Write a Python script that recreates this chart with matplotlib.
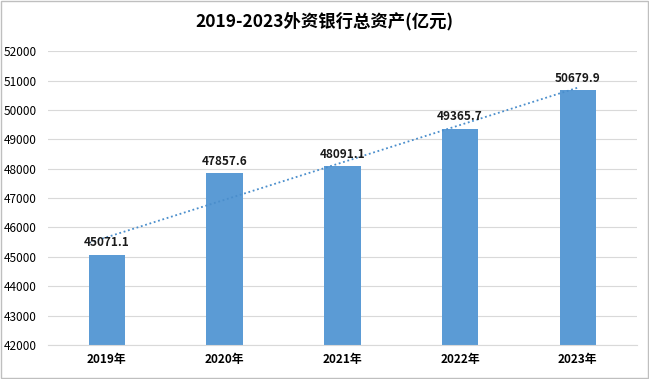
import matplotlib
matplotlib.use("Agg")
import matplotlib.pyplot as plt
import numpy as np
from matplotlib.patches import Rectangle

plt.rcParams['font.family'] = ['Noto Sans CJK SC', 'DejaVu Sans']

years = ['2019年', '2020年', '2021年', '2022年', '2023年']
assets = [45071.1, 47857.6, 48091.1, 49365.7, 50679.9]
title = '2019-2023外资银行总资产(亿元)'

fig = plt.figure(figsize=(6.49, 3.79), dpi=100)
ax = fig.add_axes([0.074, 0.09, 0.907, 0.775])

x = np.arange(len(years))
ax.bar(x, assets, width=0.31, color='#5B9BD5', zorder=2)

# linear trendline, like Excel's
k, b = np.polyfit(x, assets, 1)
xt = np.array([x[0] - 0.15, x[-1]])
ax.plot(xt, k * xt + b, linestyle=(0, (1, 1.5)), color='#4A8ECC', lw=1.3, zorder=3)

for xi, v in zip(x, assets):
    ax.text(xi, v + 180, f'{v:.1f}', ha='center', va='bottom', fontsize=8.5,
            fontweight='bold', color='#1a1a1a')

ax.set_ylim(42000, 52000)
ax.set_yticks(np.arange(42000, 52001, 1000))
ax.set_xlim(-0.5, len(years) - 0.5)
ax.set_xticks(x)
ax.set_xticklabels(years, fontweight='bold', fontsize=8.5)
ax.tick_params(axis='y', labelsize=8.5, length=0, pad=8)
ax.tick_params(axis='x', length=0, pad=6)
ax.grid(axis='y', color='#D9D9D9', lw=0.8, zorder=0)
for s in ['top', 'right', 'left']:
    ax.spines[s].set_visible(False)
ax.spines['bottom'].set_color('#D9D9D9')

fig.text(0.5, 0.945, title, ha='center', va='center', fontsize=12.5, fontweight='bold')
fig.patches.append(Rectangle((0.002, 0.003), 0.996, 0.994, transform=fig.transFigure,
                             fill=False, edgecolor='#BFBFBF', lw=1))

fig.savefig('out.png', dpi=100)
